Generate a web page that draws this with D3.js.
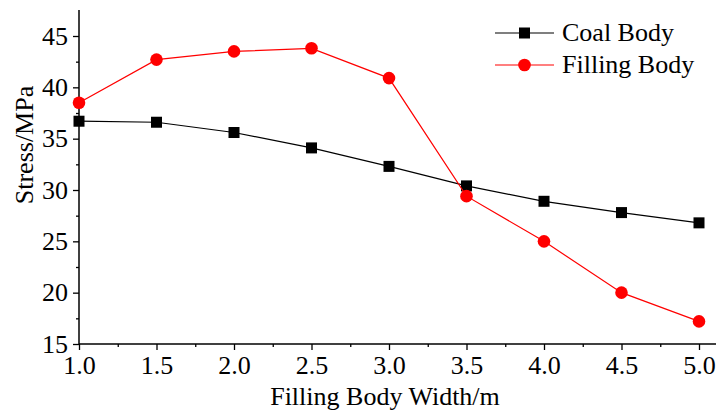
<!DOCTYPE html>
<html>
<head>
<meta charset="utf-8">
<script src="https://cdn.jsdelivr.net/npm/d3@7"></script>
<style>
  body { margin: 0; background: #fff; }
</style>
</head>
<body>
<svg width="716" height="414"></svg>
<script>
// data
const widths = [1.0, 1.5, 2.0, 2.5, 3.0, 3.5, 4.0, 4.5, 5.0];
const coalBody = [36.7, 36.6, 35.6, 34.1, 32.3, 30.4, 28.9, 27.8, 26.8];
const fillingBody = [38.5, 42.7, 43.5, 43.8, 40.9, 29.4, 25.0, 20.0, 17.2];
const xTicks = [1.0, 1.5, 2.0, 2.5, 3.0, 3.5, 4.0, 4.5, 5.0];
const yTicks = [15, 20, 25, 30, 35, 40, 45];

const FONT = "'Liberation Serif'";
const SIZE = "26px";
const svg = d3.select("svg");
const plotLeft = 79, plotBottom = 344, plotTop = 10;

const x = d3.scaleLinear().domain([1.0, 5.0]).range([plotLeft, 699]);
const y = d3.scaleLinear().domain([15, 45]).range([plotBottom, 36]);

// axes
const xAxis = d3.axisBottom(x).tickValues(xTicks).tickFormat(d3.format(".1f")).tickSize(6).tickPadding(4).tickSizeOuter(0);
const xMinor = d3.axisBottom(x).tickValues(d3.range(1.25, 5.1, 0.5)).tickFormat("").tickSize(3).tickSizeOuter(0);
const yAxis = d3.axisLeft(y).tickValues(yTicks).tickSize(6).tickPadding(5).tickSizeOuter(0);
const yMinor = d3.axisLeft(y).tickValues(d3.range(17.5, 47.5, 5)).tickFormat("").tickSize(3).tickSizeOuter(0);

function style(g){
    g.attr("font-family", null).attr("font-size", null);
    g.select(".domain").remove();
    g.selectAll("line").attr("stroke", "#000").attr("stroke-width", 1.3);
    g.selectAll("text").style("font-family", FONT).style("font-size", SIZE).attr("fill", "#000");
}

svg.append("g").attr("transform", `translate(0,${plotBottom})`).call(xAxis).call(style)
   .selectAll("text").attr("dy", "0.78em");
svg.append("g").attr("transform", `translate(0,${plotBottom})`).call(xMinor).call(style);
svg.append("g").attr("transform", `translate(${plotLeft},0)`).call(yAxis).call(style);
svg.append("g").attr("transform", `translate(${plotLeft},0)`).call(yMinor).call(style);

// axis lines
svg.append("line").attr("x1", plotLeft).attr("x2", 716).attr("y1", plotBottom).attr("y2", plotBottom)
   .attr("stroke", "#000").attr("stroke-width", 1.5);
svg.append("line").attr("x1", plotLeft).attr("x2", plotLeft).attr("y1", plotTop).attr("y2", plotBottom)
   .attr("stroke", "#000").attr("stroke-width", 1.5);

// axis titles
svg.append("text").attr("x", 385).attr("y", 405).attr("text-anchor", "middle")
   .style("font-family", FONT).style("font-size", SIZE).text("Filling Body Width/m");
svg.append("text").attr("transform", "translate(33,145) rotate(-90)").attr("text-anchor", "middle")
   .style("font-family", FONT).style("font-size", SIZE).text("Stress/MPa");

const line = d3.line().x((d, i) => x(widths[i])).y(d => y(d));

// coal body
svg.append("path").datum(coalBody).attr("d", line).attr("fill", "none")
   .attr("stroke", "#000").attr("stroke-width", 1.2);
svg.selectAll("rect.coal").data(coalBody).enter().append("rect").attr("class", "coal")
   .attr("x", (d, i) => x(widths[i]) - 5.5).attr("y", d => y(d) - 5.5)
   .attr("width", 11).attr("height", 11).attr("fill", "#000");

// filling body
svg.append("path").datum(fillingBody).attr("d", line).attr("fill", "none")
   .attr("stroke", "#ff0000").attr("stroke-width", 1.2);
svg.selectAll("circle.fill").data(fillingBody).enter().append("circle").attr("class", "fill")
   .attr("cx", (d, i) => x(widths[i])).attr("cy", d => y(d)).attr("r", 6.3).attr("fill", "#ff0000");

// legend
const legend = [
    {name: "Coal Body", color: "#000", shape: "square", y: 33},
    {name: "Filling Body", color: "#ff0000", shape: "circle", y: 65}
];
const lg = svg.append("g");
legend.forEach(function(d){
    lg.append("line").attr("x1", 495).attr("x2", 554).attr("y1", d.y).attr("y2", d.y)
      .attr("stroke", d.color).attr("stroke-width", 1.2);
    if (d.shape === "square"){
        lg.append("rect").attr("x", 519).attr("y", d.y - 5.5).attr("width", 11).attr("height", 11).attr("fill", d.color);
    } else {
        lg.append("circle").attr("cx", 524.5).attr("cy", d.y).attr("r", 6.3).attr("fill", d.color);
    }
    lg.append("text").attr("x", 562).attr("y", d.y + 8)
      .style("font-family", FONT).style("font-size", SIZE).text(d.name);
});
</script>
</body>
</html>
